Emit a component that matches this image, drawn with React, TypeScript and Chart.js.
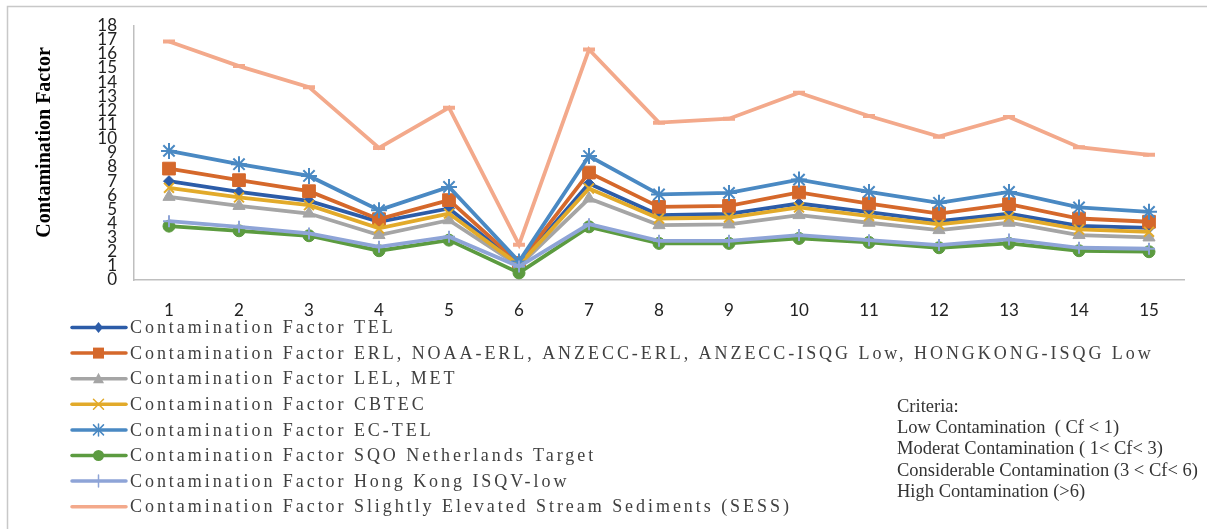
import React, { useEffect, useRef } from 'react';
import { Chart, registerables } from 'chart.js';

Chart.register(...registerables);

const W = 1207;
const H = 529;

const categories = ['1', '2', '3', '4', '5', '6', '7', '8', '9', '10', '11', '12', '13', '14', '15'];
const tel = [6.99, 6.23, 5.6, 4.12, 5.06, 1.1, 6.82, 4.59, 4.68, 5.41, 4.8, 4.16, 4.7, 3.83, 3.69];
const erl = [7.88, 7.06, 6.28, 4.3, 5.65, 1.2, 7.6, 5.17, 5.24, 6.19, 5.41, 4.7, 5.36, 4.35, 4.12];
const lel = [5.88, 5.24, 4.7, 3.18, 4.23, 1.0, 5.76, 3.88, 3.93, 4.59, 4.05, 3.53, 4.05, 3.18, 3.01];
const cbtec = [6.52, 5.84, 5.29, 3.65, 4.7, 1.05, 6.47, 4.35, 4.42, 5.13, 4.52, 3.93, 4.47, 3.58, 3.41];
const ecTel = [9.13, 8.19, 7.36, 4.94, 6.58, 1.3, 8.77, 6.05, 6.16, 7.1, 6.23, 5.46, 6.23, 5.13, 4.82];
const sqo = [3.81, 3.48, 3.13, 2.07, 2.82, 0.5, 3.76, 2.59, 2.59, 2.94, 2.66, 2.28, 2.59, 2.07, 2.0];
const hk = [4.16, 3.76, 3.29, 2.35, 3.06, 0.95, 3.95, 2.77, 2.77, 3.18, 2.82, 2.47, 2.87, 2.28, 2.21];
const sess = [16.87, 15.13, 13.64, 9.34, 12.19, 2.5, 16.3, 11.13, 11.41, 13.24, 11.6, 10.14, 11.53, 9.39, 8.85];

const seriesLabels = [
  'Contamination Factor TEL',
  'Contamination Factor ERL, NOAA-ERL, ANZECC-ERL, ANZECC-ISQG Low, HONGKONG-ISQG Low',
  'Contamination Factor LEL, MET',
  'Contamination Factor CBTEC',
  'Contamination Factor EC-TEL',
  'Contamination Factor SQO Netherlands Target',
  'Contamination Factor Hong Kong ISQV-low',
  'Contamination Factor Slightly Elevated Stream Sediments (SESS)',
];
const seriesValues = [tel, erl, lel, cbtec, ecTel, sqo, hk, sess];
const seriesColors = ['#2C5CA8', '#D5682B', '#A5A5A5', '#E2AA2A', '#4A89C3', '#5C9B40', '#8EA4D7', '#F3A98B'];
const seriesMarkers = ['diamond', 'square', 'triangle', 'x', 'star', 'circle', 'plus', 'dash'];

const criteriaLines = [
  'Criteria:',
  'Low Contamination  ( Cf < 1)',
  'Moderat Contamination ( 1< Cf< 3)',
  'Considerable Contamination (3 < Cf< 6)',
  'High Contamination (>6)',
];

const yTitle = 'Contamination Factor';

function chartPointStyle(m: string) {
  switch (m) {
    case 'diamond': return { pointStyle: 'rectRot', radius: 5.5, bw: 1 };
    case 'square': return { pointStyle: 'rect', radius: 9, bw: 1 };
    case 'triangle': return { pointStyle: 'triangle', radius: 7, bw: 1 };
    case 'x': return { pointStyle: 'crossRot', radius: 7, bw: 2 };
    case 'star': return { pointStyle: 'star', radius: 8, bw: 2 };
    case 'circle': return { pointStyle: 'circle', radius: 6, bw: 1 };
    case 'plus': return { pointStyle: 'cross', radius: 6, bw: 2 };
    default: return { pointStyle: 'line', radius: 6, bw: 4 };
  }
}

function drawLegendMarker(ctx: CanvasRenderingContext2D, m: string, x: number, y: number, color: string) {
  ctx.save();
  ctx.fillStyle = color;
  ctx.strokeStyle = color;
  ctx.lineWidth = 1.5;
  ctx.beginPath();
  if (m === 'diamond') {
    ctx.moveTo(x, y - 5.5); ctx.lineTo(x + 4.5, y); ctx.lineTo(x, y + 5.5); ctx.lineTo(x - 4.5, y); ctx.closePath(); ctx.fill();
  } else if (m === 'square') {
    ctx.rect(x - 5.5, y - 5.5, 11, 11); ctx.fill();
  } else if (m === 'triangle') {
    ctx.moveTo(x, y - 6); ctx.lineTo(x + 5.5, y + 4.5); ctx.lineTo(x - 5.5, y + 4.5); ctx.closePath(); ctx.fill();
  } else if (m === 'x') {
    ctx.moveTo(x - 5, y - 5); ctx.lineTo(x + 5, y + 5); ctx.moveTo(x + 5, y - 5); ctx.lineTo(x - 5, y + 5); ctx.stroke();
  } else if (m === 'star') {
    ctx.moveTo(x - 5, y - 5); ctx.lineTo(x + 5, y + 5); ctx.moveTo(x + 5, y - 5); ctx.lineTo(x - 5, y + 5);
    ctx.moveTo(x, y - 6); ctx.lineTo(x, y + 6); ctx.stroke();
  } else if (m === 'circle') {
    ctx.arc(x, y, 5.5, 0, Math.PI * 2); ctx.fill();
  } else if (m === 'plus') {
    ctx.moveTo(x, y - 6); ctx.lineTo(x, y + 6); ctx.stroke();
  }
  ctx.restore();
}

const overlayPlugin = {
  id: 'overlay',
  beforeDraw(chart: any) {
    const ctx: CanvasRenderingContext2D = chart.ctx;
    ctx.save();
    ctx.fillStyle = '#ffffff';
    ctx.fillRect(0, 0, W, H);
    ctx.strokeStyle = '#C8C8C8';
    ctx.lineWidth = 1.5;
    ctx.beginPath();
    ctx.moveTo(7.5, H);
    ctx.lineTo(7.5, 6.5);
    ctx.lineTo(W, 6.5);
    ctx.stroke();
    ctx.restore();
  },
  afterDraw(chart: any) {
    const ctx: CanvasRenderingContext2D = chart.ctx;
    // y-axis title
    ctx.save();
    ctx.translate(45, 142.5);
    ctx.rotate(-Math.PI / 2);
    ctx.font = 'bold 20px "Liberation Serif", "Times New Roman", serif';
    ctx.fillStyle = '#000000';
    ctx.textAlign = 'center';
    ctx.textBaseline = 'middle';
    ctx.fillText(yTitle, 0, 0);
    ctx.restore();

    // legend
    ctx.save();
    const rowY0 = 327.5;
    const rowStep = 25.6;
    seriesLabels.forEach((label, i) => {
      const y = rowY0 + i * rowStep;
      ctx.strokeStyle = seriesColors[i];
      ctx.lineWidth = 3.5;
      ctx.lineCap = 'round';
      ctx.beginPath();
      ctx.moveTo(72, y);
      ctx.lineTo(126, y);
      ctx.stroke();
      drawLegendMarker(ctx, seriesMarkers[i], 98.5, y, seriesColors[i]);
      ctx.font = '18px "Liberation Serif", "Times New Roman", serif';
      (ctx as any).letterSpacing = '2.95px';
      ctx.fillStyle = '#404040';
      ctx.textAlign = 'left';
      ctx.textBaseline = 'middle';
      ctx.fillText(label, 130, y + 1);
      (ctx as any).letterSpacing = '0px';
    });
    ctx.restore();

    // criteria
    ctx.save();
    ctx.font = '18.5px "Liberation Serif", "Times New Roman", serif';
    ctx.fillStyle = '#333333';
    ctx.textAlign = 'left';
    ctx.textBaseline = 'middle';
    criteriaLines.forEach((t, i) => {
      ctx.fillText(t, 897, 407 + i * 21.3);
    });
    ctx.restore();
  },
};

export default function App() {
  const ref = useRef<HTMLCanvasElement>(null);
  useEffect(() => {
    if (!ref.current) return;
    const datasets = seriesValues.map((vals, i) => {
      const ps = chartPointStyle(seriesMarkers[i]);
      return {
        label: seriesLabels[i],
        data: vals,
        borderColor: seriesColors[i],
        backgroundColor: seriesColors[i],
        borderWidth: 3.8,
        pointStyle: ps.pointStyle as any,
        pointRadius: ps.radius,
        pointBorderWidth: ps.bw,
        pointBackgroundColor: seriesColors[i],
        pointBorderColor: seriesColors[i],
        pointHoverRadius: ps.radius,
        tension: 0,
        fill: false,
        order: seriesValues.length - i,
      };
    });
    const chart = new Chart(ref.current, {
      type: 'line',
      data: { labels: categories, datasets },
      options: {
        animation: false,
        responsive: false,
        devicePixelRatio: 1,
        events: [],
        layout: { padding: { left: 0, right: 23, top: 25, bottom: 209 } },
        plugins: { legend: { display: false }, tooltip: { enabled: false }, title: { display: false } },
        scales: {
          x: {
            offset: true,
            grid: { display: false, drawTicks: false },
            border: { display: true, color: '#BFBFBF', width: 1.5 },
            ticks: {
              color: '#222222',
              font: { family: 'Lato, "Open Sans", sans-serif', size: 17 },
              padding: 20,
              maxRotation: 0,
              autoSkip: false,
            },
            afterFit: (s: any) => { s.height = 40; },
          },
          y: {
            min: 0,
            max: 18,
            grid: { display: false, drawTicks: false },
            border: { display: true, color: '#BFBFBF', width: 1.5 },
            ticks: {
              stepSize: 1,
              autoSkip: false,
              color: '#222222',
              font: { family: 'Lato, "Open Sans", sans-serif', size: 17, lineHeight: 1 },
              padding: 17,
            },
            afterFit: (s: any) => { s.width = 134; },
          },
        },
      },
      plugins: [overlayPlugin],
    });
    return () => chart.destroy();
  }, []);
  return (
    <div style={{ position: 'fixed', left: 0, top: 0, width: W, height: H, background: '#fff' }}>
      <canvas ref={ref} width={W} height={H} style={{ width: W, height: H, display: 'block' }} />
    </div>
  );
}
